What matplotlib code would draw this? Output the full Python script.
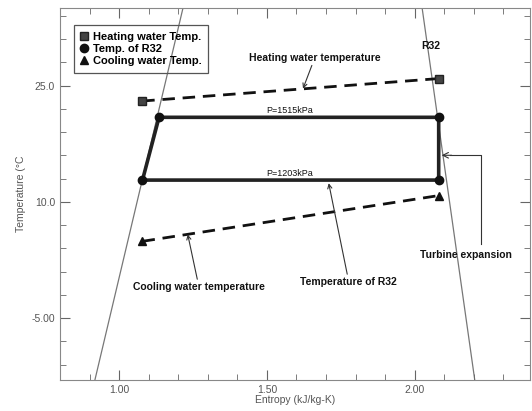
import matplotlib
matplotlib.use("Agg")
import matplotlib.pyplot as plt
import numpy as np

plt.rcParams["font.family"] = ["Liberation Sans", "DejaVu Sans"]

# R32 cycle (entropy kJ/kg-K, temperature C): evap-left, cond-left, cond-right, evap-right
r32_s = [1.079, 1.135, 2.081, 2.081, 1.079]
r32_t = [12.8, 20.9, 20.9, 12.8, 12.8]

# heating / cooling water
heat_s = [1.078, 2.081]
heat_t = [23.0, 25.9]
cool_s = [1.079, 2.081]
cool_t = [4.9, 10.8]

# saturation dome (straight segments across the plot)
sat_left_s = [0.918, 1.216]
sat_left_t = [-13.0, 35.0]
sat_right_s = [2.203, 2.025]
sat_right_t = [-13.0, 35.0]

x_major = [1.0, 1.5, 2.0]
x_major_labels = ["1.00", "1.50", "2.00"]
y_major = [-5.0, 10.0, 25.0]
y_major_labels = ["-5.00", "10.0", "25.0"]

fig = plt.figure(figsize=(5.32, 4.11), dpi=100)
ax = fig.add_axes([0.1128, 0.0754, 0.8835, 0.905])

ax.plot(sat_left_s, sat_left_t, color="#777777", lw=0.9, zorder=1)
ax.plot(sat_right_s, sat_right_t, color="#777777", lw=0.9, zorder=1)

ax.plot(heat_s, heat_t, color="#111111", lw=2.0, ls=(0, (4.5, 2.8)), zorder=2)
ax.plot(cool_s, cool_t, color="#111111", lw=2.0, ls=(0, (4.5, 2.8)), zorder=2)
ax.plot(r32_s, r32_t, color="#222222", lw=2.6, zorder=3)

ax.plot(heat_s, heat_t, ls="none", marker="s", ms=6, mfc="#444444", mec="#222222",
        label="Heating water Temp.", zorder=4)
ax.plot(r32_s[:4], r32_t[:4], ls="none", marker="o", ms=6, color="#111111",
        label="Temp. of R32", zorder=4)
ax.plot(cool_s, cool_t, ls="none", marker="^", ms=6, color="#111111",
        label="Cooling water Temp.", zorder=4)

ax.set_xlim(0.8, 2.39)
ax.set_ylim(-13, 35)
ax.set_xticks(x_major)
ax.set_xticklabels(x_major_labels)
ax.set_yticks(y_major)
ax.set_yticklabels(y_major_labels)
ax.set_xticks(np.arange(0.9, 2.4, 0.1), minor=True)
ax.set_yticks(np.arange(-11, 35, 3), minor=True)
ax.tick_params(which="both", direction="in", top=True, right=True, colors="#666666",
               labelcolor="#555555", labelsize=7.5)
ax.tick_params(which="major", length=7)
ax.tick_params(which="minor", length=4)
for sp in ax.spines.values():
    sp.set_color("#888888")

ax.set_xlabel("Entropy (kJ/kg-K)", fontsize=7.5, color="#555555", labelpad=0)
ax.set_ylabel("Temperature (°C", fontsize=7.5, color="#555555", labelpad=4)

txt = dict(fontsize=7.5, fontweight="bold", color="#111111", ha="center", va="center")
ax.text(2.054, 30.1, "R32", **txt)
ax.text(1.578, 21.8, "P=1515kPa", **dict(txt, fontsize=6.5, fontweight="normal"))
ax.text(1.578, 13.7, "P=1203kPa", **dict(txt, fontsize=6.5, fontweight="normal"))

arr = dict(arrowstyle="->", color="#333333", lw=0.8, shrinkA=0, shrinkB=0)
ax.annotate("Heating water temperature", xy=(1.622, 24.6), xytext=(1.662, 28.6),
            arrowprops=arr, **txt)
ax.annotate("Temperature of R32", xy=(1.709, 12.4), xytext=(1.777, -0.35),
            arrowprops=arr, **txt)
ax.annotate("Cooling water temperature", xy=(1.232, 5.8), xytext=(1.27, -1.0),
            arrowprops=arr, **txt)
ax.text(2.172, 3.1, "Turbine expansion", **txt)
ax.plot([2.223, 2.223, 2.12], [4.6, 16.0, 16.0], color="#333333", lw=0.8, zorder=2)
ax.annotate("", xy=(2.091, 16.0), xytext=(2.125, 16.0), arrowprops=arr)

leg = ax.legend(loc="upper left", bbox_to_anchor=(0.03, 0.954), borderaxespad=0,
                frameon=True, fancybox=False, facecolor="none", edgecolor="#555555",
                prop={"size": 8, "weight": "bold"}, handlelength=0.6,
                handletextpad=0.5, labelspacing=0.2, borderpad=0.6)
leg.get_frame().set_linewidth(0.9)
leg.get_frame().set_alpha(None)

fig.savefig("out.png", dpi=100)
